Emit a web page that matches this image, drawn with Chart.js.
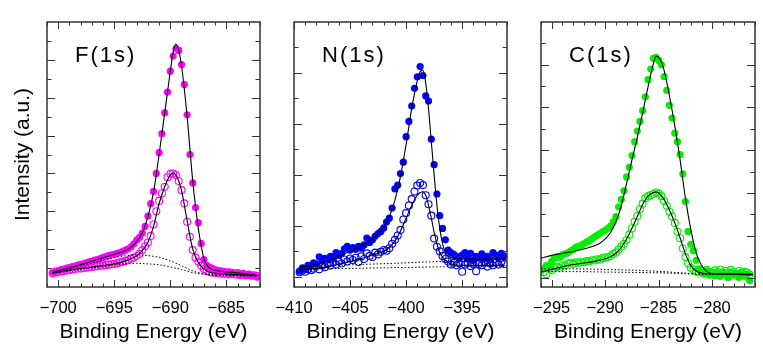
<!DOCTYPE html>
<html>
<head>
<meta charset="utf-8">
<script src="https://cdn.jsdelivr.net/npm/chart.js@4.4.0/dist/chart.umd.min.js"></script>
<style>
  html, body { margin: 0; padding: 0; background: #fff; }
  #wrap { position: relative; width: 763px; height: 346px; }
  canvas { position: absolute; top: 0; }
</style>
</head>
<body>
<div id="wrap">
  <canvas id="chart-f" width="270" height="346" style="left:0px"></canvas>
  <canvas id="chart-n" width="250" height="346" style="left:270px"></canvas>
  <canvas id="chart-c" width="243" height="346" style="left:520px"></canvas>
</div>
<script>
// ---- F(1s) ----
const fTicks = [-700, -695, -690, -685];
const fEnergy = [-700.5,-700.25,-700,-699.75,-699.5,-699.25,-699,-698.75,-698.5,-698.25,-698,-697.75,-697.5,-697.25,-697,-696.75,-696.5,-696.25,-696,-695.75,-695.5,-695.25,-695,-694.75,-694.5,-694.25,-694,-693.75,-693.5,-693.25,-693,-692.75,-692.5,-692.25,-692,-691.75,-691.5,-691.25,-691,-690.75,-690.5,-690.25,-690,-689.75,-689.5,-689.25,-689,-688.75,-688.5,-688.25,-688,-687.75,-687.5,-687.25,-687,-686.75,-686.5,-686.25,-686,-685.75,-685.5,-685.25,-685,-684.75,-684.5,-684.25,-684,-683.75,-683.5,-683.25,-683,-682.75,-682.5,-682.25];
const fFilled = [0.78,0.84,0.86,0.92,0.95,1.0,1.02,1.08,1.1,1.16,
  1.2,1.22,1.28,1.33,1.36,1.42,1.45,1.5,1.56,1.6,
  1.66,1.7,1.72,1.78,1.82,1.88,1.95,2.02,2.12,2.28,
  2.48,2.62,2.85,3.2,3.75,4.4,5.05,6.0,7.1,8.1,
  9.2,10.3,11.4,12.2,12.6,12.5,11.75,10.7,9.1,7.0,
  5.5,4.2,3.4,2.3,1.45,1.15,1.05,0.98,0.92,0.88,
  0.85,0.83,0.8,0.8,0.78,0.74,0.76,0.7,0.72,0.66,
  0.68,0.62,0.6,0.52];
const fOpen = [0.72,0.76,0.8,0.82,0.85,0.88,0.9,0.93,0.95,0.98,
  0.98,1.0,1.02,1.04,1.06,1.08,1.1,1.12,1.13,1.16,
  1.18,1.2,1.22,1.26,1.3,1.33,1.38,1.43,1.5,1.56,
  1.64,1.75,1.95,2.15,2.35,2.7,3.3,4.0,4.55,4.95,
  5.3,5.8,5.98,6.0,5.92,5.6,5.12,4.42,3.45,2.65,
  1.95,1.55,1.33,1.12,0.95,0.85,0.8,0.76,0.75,0.72,
  0.72,0.7,0.7,0.68,0.7,0.66,0.66,0.64,0.66,0.62,
  0.64,0.6,0.62,0.58];
const fFitEnergy = [-700.5,-700,-699,-698,-697,-696,-695,-694,-693.5,-693,-692.5,-692,-691.5,-691,-690.5,-690,-689.75,-689.5,-689.25,-689,-688.5,-688,-687.5,-687,-686.5,-686,-685,-684,-683,-682.25];
const fFitFilled = [0.8,0.87,1.02,1.18,1.36,1.55,1.73,1.93,2.1,2.4,2.85,3.7,5.0,7.0,9.2,11.4,12.4,12.84,12.5,11.7,9.0,5.6,3.1,1.5,1.0,0.88,0.8,0.75,0.68,0.6];
const fFitOpen = [0.74,0.8,0.9,0.98,1.06,1.13,1.22,1.38,1.5,1.64,1.92,2.35,3.2,4.4,5.3,5.92,6.02,5.92,5.6,5.1,3.5,2.0,1.3,0.95,0.78,0.72,0.68,0.66,0.64,0.6];
const fBgEnergy = [-700.5,-699,-697.5,-696,-695,-694,-693,-692,-691,-690,-689,-688,-687,-686,-685,-683.5,-682.25];
const fBgUpper = [0.78,0.98,1.2,1.42,1.55,1.65,1.7,1.66,1.56,1.38,1.12,0.85,0.7,0.64,0.62,0.61,0.6];
const fBgLower = [0.72,0.85,0.98,1.08,1.17,1.22,1.25,1.22,1.17,1.06,0.92,0.76,0.67,0.62,0.6,0.59,0.58];

// ---- N(1s) ----
const nTicks = [-410, -405, -400, -395];
const nEnergy = [-409.5,-409.25,-409,-408.75,-408.5,-408.25,-408,-407.75,-407.5,-407.25,-407,-406.75,-406.5,-406.25,-406,-405.75,-405.5,-405.25,-405,-404.75,-404.5,-404.25,-404,-403.75,-403.5,-403.25,-403,-402.75,-402.5,-402.25,-402,-401.75,-401.5,-401.25,-401,-400.75,-400.5,-400.25,-400,-399.75,-399.5,-399.25,-399,-398.75,-398.5,-398.25,-398,-397.75,-397.5,-397.25,-397,-396.75,-396.5,-396.25,-396,-395.75,-395.5,-395.25,-395,-394.75,-394.5,-394.25,-394,-393.75,-393.5,-393.25,-393,-392.75,-392.5,-392.25,-392,-391.75,-391.5,-391.25];
const nFilled = [0.22,0.35,0.3,0.45,0.42,0.55,0.5,0.78,0.62,0.72,
  0.68,0.8,0.72,0.95,0.85,0.92,1.1,1.2,1.05,1.15,
  1.08,1.2,1.12,1.25,1.52,1.35,1.45,1.6,1.7,1.78,
  1.92,2.15,2.3,2.7,3.45,3.6,4.05,4.5,5.5,6.1,
  6.7,7.4,7.85,8.25,7.9,7.1,6.9,5.4,4.4,3.25,
  2.4,1.9,1.45,1.05,0.95,0.88,0.8,0.72,0.85,0.95,
  0.7,0.92,0.65,0.8,0.75,0.9,0.72,0.8,0.68,0.95,
  0.85,0.75,0.92,0.8];
const nOpen = [0.18,0.25,0.2,0.3,0.26,0.32,0.42,0.3,0.45,0.38,
  0.5,0.44,0.55,0.48,0.6,0.52,0.68,0.6,0.72,0.66,
  0.75,0.58,0.8,0.7,0.92,0.82,0.78,0.95,0.88,0.98,
  1.05,1.02,1.12,1.3,1.45,1.62,1.84,2.25,2.5,2.8,
  3.05,3.35,3.58,3.68,3.6,3.2,2.85,2.4,1.5,1.18,
  1.0,0.82,0.7,0.6,0.48,0.55,0.45,0.52,0.2,0.48,
  0.55,0.42,0.5,0.22,0.5,0.45,0.58,0.4,0.52,0.45,
  0.55,0.48,0.6,0.5];
const nFitEnergy = [-409.5,-409,-408,-407,-406,-405,-404,-403.5,-403,-402.5,-402,-401.5,-401,-400.5,-400,-399.5,-399,-398.75,-398.5,-398.25,-398,-397.75,-397.5,-397.25,-397,-396.75,-396.5,-396,-395,-394,-392,-391.2];
const nFitFilled = [0.35,0.4,0.5,0.62,0.8,1.0,1.2,1.35,1.5,1.7,1.95,2.35,3.0,3.95,5.2,6.6,7.7,8.05,8.1,7.6,6.6,5.3,4.0,2.8,1.9,1.3,0.95,0.75,0.7,0.7,0.7,0.7];
const nFitOpen = [0.25,0.28,0.33,0.4,0.5,0.6,0.72,0.78,0.85,0.92,1.0,1.15,1.4,1.8,2.3,2.8,3.2,3.3,3.34,3.2,2.8,2.3,1.75,1.3,0.95,0.78,0.65,0.5,0.45,0.45,0.45,0.45];
const nBgEnergy = [-409.5,-405,-401,-397,-395,-391.2];
const nBgUpper = [0.4,0.47,0.53,0.6,0.62,0.62];
const nBgLower = [0.3,0.33,0.36,0.39,0.4,0.4];

// ---- C(1s) ----
const cTicks = [-295, -290, -285, -280];
const cEnergy = [-295.75,-295.5,-295.25,-295,-294.75,-294.5,-294.25,-294,-293.75,-293.5,-293.25,-293,-292.75,-292.5,-292.25,-292,-291.75,-291.5,-291.25,-291,-290.75,-290.5,-290.25,-290,-289.75,-289.5,-289.25,-289,-288.75,-288.5,-288.25,-288,-287.75,-287.5,-287.25,-287,-286.75,-286.5,-286.25,-286,-285.75,-285.5,-285.25,-285,-284.75,-284.5,-284.25,-284,-283.75,-283.5,-283.25,-283,-282.75,-282.5,-282.25,-282,-281.75,-281.5,-281.25,-281,-280.75,-280.5,-280.25,-280,-279.75,-279.5,-279.25,-279,-278.75,-278.5,-278.25,-278,-277.75,-277.5,-277.25,-277,-276.75,-276.5];
const cFilled = [0.45,0.6,0.55,0.8,0.95,1.02,0.98,1.1,1.15,1.2,
  1.28,1.35,1.45,1.5,1.55,1.62,1.7,1.76,1.85,1.95,
  2.02,2.1,2.18,2.25,2.35,2.45,2.65,2.9,3.35,3.7,
  4.1,4.75,5.2,5.75,6.4,6.9,7.35,7.85,8.5,9.3,
  9.8,10.3,10.35,10.2,10.0,9.45,8.8,8.1,7.5,6.8,
  6.4,5.8,4.9,3.6,2.2,1.6,1.3,0.85,0.45,0.28,
  0.2,0.35,0.15,0.3,0.12,0.25,0.1,0.3,0.18,0.05,
  0.28,0.15,0.22,0.05,0.3,0.1,0.2,-0.1];
const cOpen = [0.3,0.2,0.45,0.4,0.5,0.55,0.5,0.62,0.6,0.7,
  0.72,0.68,0.75,0.72,0.78,0.76,0.82,0.8,0.85,0.84,
  0.9,0.88,0.95,0.98,1.0,1.05,1.15,1.22,1.35,1.48,
  1.62,1.8,2.05,2.35,2.65,2.92,3.25,3.5,3.75,3.85,
  3.9,3.95,4.02,3.98,3.85,3.62,3.4,3.12,2.9,2.6,
  2.2,1.88,1.4,1.0,0.7,0.5,0.42,0.32,0.28,0.35,
  0.25,0.4,0.3,0.22,0.38,0.3,0.42,0.25,0.35,0.28,
  0.4,0.3,0.2,0.35,0.25,0.32,0.28,0.18];
const cFitEnergy = [-296,-295,-294,-293,-292,-291,-290.5,-290,-289.5,-289,-288.5,-288,-287.5,-287,-286.5,-286,-285.5,-285.25,-285,-284.5,-284,-283.5,-283,-282.5,-282,-281.5,-281,-280.5,-280,-279,-277,-276.2];
const cFitFilled = [0.94,1.08,1.17,1.26,1.38,1.53,1.65,1.85,2.15,2.65,3.4,4.45,5.55,6.6,7.75,8.95,10.05,10.4,10.35,9.75,8.55,7.15,5.55,3.75,2.3,1.2,0.62,0.32,0.22,0.2,0.18,0.16];
const cFitOpen = [0.3,0.42,0.55,0.65,0.72,0.8,0.86,0.92,1.02,1.18,1.45,1.85,2.35,2.9,3.45,3.85,4.02,4.05,4.0,3.7,3.2,2.6,1.9,1.15,0.6,0.35,0.25,0.22,0.22,0.22,0.21,0.2];
const cBgEnergy = [-296,-293,-290,-287,-284,-281.5,-280,-276.2];
const cBgUpper = [0.45,0.45,0.42,0.38,0.3,0.22,0.2,0.2];
const cBgLower = [0.32,0.32,0.3,0.28,0.25,0.2,0.18,0.18];

const FONT = "'Liberation Sans', Arial, sans-serif";

function pts(xs, ys) {
  return xs.map((x, i) => ({ x: x, y: ys[i] }));
}

// box frame, inward ticks on all four sides, panel label
const frameTicks = {
  id: "frameTicks",
  afterDatasetsDraw(chart, args, opts) {
    const { ctx, chartArea: a, scales: { x, y } } = chart;
    ctx.save();
    ctx.strokeStyle = "#333";
    ctx.lineWidth = 1;
    ctx.beginPath();
    for (let v = Math.ceil(x.min); v <= x.max; v++) {
      const px = Math.round(x.getPixelForValue(v)) + 0.5;
      const len = v % 5 === 0 ? 7 : 3.5;
      ctx.moveTo(px, a.bottom); ctx.lineTo(px, a.bottom - len);
      ctx.moveTo(px, a.top); ctx.lineTo(px, a.top + len);
    }
    for (let v = Math.ceil(y.min); v < y.max; v++) {
      if (v <= y.min) continue;
      const py = Math.round(y.getPixelForValue(v)) + 0.5;
      const len = v % 2 === 0 ? 8 : 4.5;
      ctx.moveTo(a.left, py); ctx.lineTo(a.left + len, py);
      ctx.moveTo(a.right, py); ctx.lineTo(a.right - len, py);
    }
    ctx.stroke();
    ctx.lineWidth = 1.5;
    ctx.strokeRect(a.left, a.top, a.right - a.left, a.bottom - a.top);
    ctx.fillStyle = "#000";
    ctx.font = "22px " + FONT;
    ctx.letterSpacing = "2px";
    ctx.textBaseline = "alphabetic";
    ctx.fillText(opts.label, a.left + 28, a.top + 40);
    ctx.restore();
  },
};

function makePanel(id, p) {
  const datasets = [
    { type: "line", data: pts(p.fitE, p.fitFilled), borderColor: "#000", borderWidth: 1.1,
      pointRadius: 0, cubicInterpolationMode: "monotone", order: 0 },
    { type: "line", data: pts(p.fitE, p.fitOpen), borderColor: "#000", borderWidth: 1.1,
      pointRadius: 0, cubicInterpolationMode: "monotone", order: 0 },
    { type: "line", data: pts(p.bgE, p.bgUpper), borderColor: "#000", borderWidth: 1,
      borderDash: [1.5, 2], pointRadius: 0, cubicInterpolationMode: "monotone", order: 0 },
    { type: "line", data: pts(p.bgE, p.bgLower), borderColor: "#000", borderWidth: 1,
      borderDash: [1.5, 2], pointRadius: 0, cubicInterpolationMode: "monotone", order: 0 },
    { data: pts(p.energy, p.filled), showLine: false, pointRadius: 3.6,
      pointBackgroundColor: p.color, pointBorderWidth: 0, order: 1 },
    { data: pts(p.energy, p.open), showLine: false, pointRadius: 3.5,
      pointBackgroundColor: "rgba(0,0,0,0)", pointBorderColor: p.color, pointBorderWidth: 1.1, order: 1 },
  ];

  return new Chart(document.getElementById(id), {
    type: "scatter",
    data: { datasets: datasets },
    plugins: [frameTicks],
    options: {
      responsive: false,
      animation: false,
      layout: { padding: { top: 22, right: p.padRight, left: 0, bottom: 0 } },
      plugins: {
        legend: { display: false },
        tooltip: { enabled: false },
        frameTicks: { label: p.label },
      },
      scales: {
        x: {
          type: "linear",
          min: p.xMin,
          max: p.xMax,
          grid: { display: false },
          border: { display: false },
          afterBuildTicks: (s) => { s.ticks = p.ticks.map((v) => ({ value: v })); },
          afterFit: (s) => { s.height = 59; },
          ticks: {
            color: "#000",
            padding: 4,
            font: { family: FONT, size: 16.5 },
            callback: (v) => "\u2212" + Math.abs(v),
          },
          title: {
            display: true,
            text: "Binding Energy (eV)",
            color: "#000",
            font: { family: FONT, size: 21 },
            padding: { top: 0, bottom: 1 },
          },
        },
        y: {
          type: "linear",
          min: p.yMin,
          max: p.yMax,
          grid: { display: false },
          border: { display: false },
          ticks: { display: false },
          afterFit: (s) => { s.width = p.yWidth; },
          title: {
            display: p.yTitle,
            text: "Intensity (a.u.)",
            color: "#000",
            font: { family: FONT, size: 21 },
            padding: { top: 11, bottom: 0 },
          },
        },
      },
    },
  });
}

makePanel("chart-f", {
  label: "F(1s)", color: "#ff00ff", ticks: fTicks, xMin: -701, xMax: -682, yMin: 0, yMax: 14,
  energy: fEnergy, filled: fFilled, open: fOpen,
  fitE: fFitEnergy, fitFilled: fFitFilled, fitOpen: fFitOpen,
  bgE: fBgEnergy, bgUpper: fBgUpper, bgLower: fBgLower,
  yWidth: 47, padRight: 10, yTitle: true,
});

makePanel("chart-n", {
  label: "N(1s)", color: "#0000ff", ticks: nTicks, xMin: -410, xMax: -391, yMin: -0.4, yMax: 10,
  energy: nEnergy, filled: nFilled, open: nOpen,
  fitE: nFitEnergy, fitFilled: nFitFilled, fitOpen: nFitOpen,
  bgE: nBgEnergy, bgUpper: nBgUpper, bgLower: nBgLower,
  yWidth: 24, padRight: 13, yTitle: false,
});

makePanel("chart-c", {
  label: "C(1s)", color: "#00ee00", ticks: cTicks, xMin: -296, xMax: -276, yMin: -0.4, yMax: 12,
  energy: cEnergy, filled: cFilled, open: cOpen,
  fitE: cFitEnergy, fitFilled: cFitFilled, fitOpen: cFitOpen,
  bgE: cBgEnergy, bgUpper: cBgUpper, bgLower: cBgLower,
  yWidth: 21, padRight: 8, yTitle: false,
});
</script>
</body>
</html>
